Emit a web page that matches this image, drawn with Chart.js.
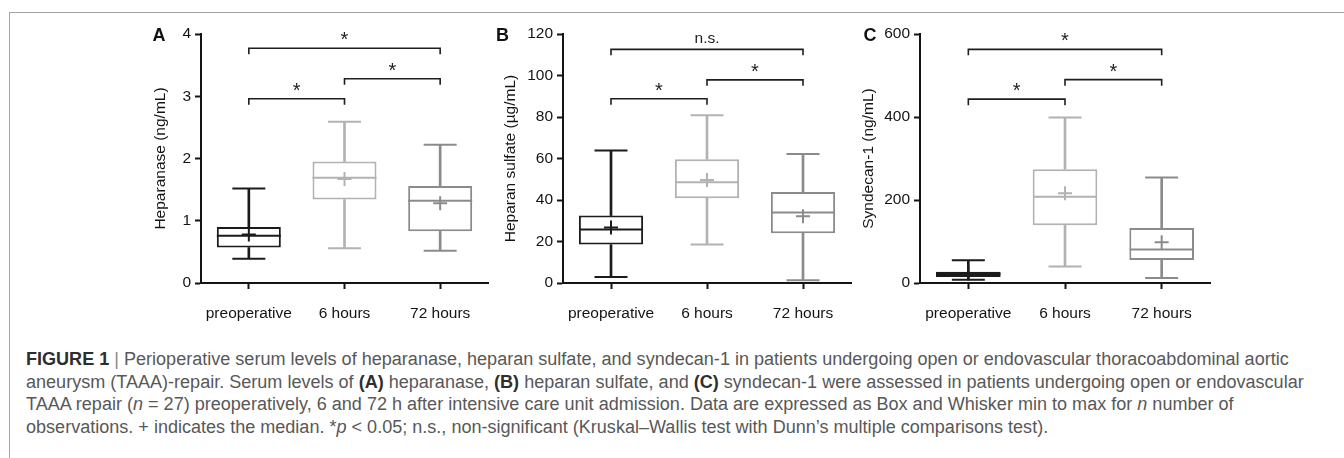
<!DOCTYPE html>
<html>
<head>
<meta charset="utf-8">
<script src="https://cdn.jsdelivr.net/npm/chart.js@4.4.1/dist/chart.umd.min.js"></script>
<style>
html,body{margin:0;padding:0;background:#fff;width:1344px;height:458px;overflow:hidden;font-family:"Liberation Sans",Arial,sans-serif;}
#frame{position:absolute;left:9px;top:12px;width:1400px;height:500px;border-top:1px solid #a6a6a6;border-left:1px solid #a6a6a6;}
canvas{position:absolute;top:0;}
.lbl{position:absolute;top:26px;font:bold 18px "Liberation Sans",Arial,sans-serif;color:#111;line-height:18px;}
#caption{position:absolute;left:26px;top:348px;color:#585858;white-space:nowrap;font-size:17.5px;}
#caption div{height:22.5px;line-height:22.5px;}
#caption b{color:#2e2e2e;font-weight:bold;}
#caption .bar{color:#888;}
</style>
</head>
<body>
<div id="frame"></div>
<canvas id="cA" width="345" height="340" style="left:147px"></canvas>
<canvas id="cB" width="358" height="340" style="left:497px"></canvas>
<canvas id="cC" width="359" height="340" style="left:855px"></canvas>
<div class="lbl" style="left:152.5px">A</div>
<div class="lbl" style="left:496px">B</div>
<div class="lbl" style="left:863.5px">C</div>
<div id="caption">
<div><span id="l1"><b>FIGURE 1</b> <span class="bar">|</span> Perioperative serum levels of heparanase, heparan sulfate, and syndecan-1 in patients undergoing open or endovascular thoracoabdominal aortic</span></div>
<div><span>aneurysm (TAAA)-repair. Serum levels of <b>(A)</b> heparanase, <b>(B)</b> heparan sulfate, and <b>(C)</b> syndecan-1 were assessed in patients undergoing open or endovascular</span></div>
<div><span>TAAA repair (<i>n</i> = 27) preoperatively, 6 and 72 h after intensive care unit admission. Data are expressed as Box and Whisker min to max for <i>n</i> number of</span></div>
<div><span>observations. + indicates the median. *<i>p</i> &lt; 0.05; n.s., non-significant (Kruskal–Wallis test with Dunn’s multiple comparisons test).</span></div>
</div>
<script>
// ---- data ----
const categories = ['preoperative', '6 hours', '72 hours'];

// A: Heparanase (ng/mL)
const heparanaseMin  = [0.39, 0.56, 0.52];
const heparanaseQ1   = [0.57, 1.34, 0.83];
const heparanaseMid  = [0.76, 1.69, 1.32];
const heparanaseQ3   = [0.90, 1.95, 1.56];
const heparanaseMax  = [1.52, 2.59, 2.22];
const heparanasePlus = [0.78, 1.67, 1.28];
const heparanaseTicks = [0, 1, 2, 3, 4];
const heparanaseBrackets = [[0, 2, 3.77, '*'], [1, 2, 3.28, '*'], [0, 1, 2.96, '*']];

// B: Heparan sulfate (µg/mL)
const sulfateMin  = [2.9, 18.5, 1.3];
const sulfateQ1   = [18.5, 40.8, 24.0];
const sulfateMid  = [25.8, 48.6, 34.0];
const sulfateQ3   = [32.5, 59.6, 43.8];
const sulfateMax  = [63.8, 80.9, 62.2];
const sulfatePlus = [26.7, 49.6, 32.2];
const sulfateTicks = [0, 20, 40, 60, 80, 100, 120];
const sulfateBrackets = [[0, 2, 112.6, 'n.s.'], [1, 2, 97.9, '*'], [0, 1, 88.8, '*']];

// C: Syndecan-1 (ng/mL)
const syndecanMin  = [8, 40, 12];
const syndecanQ1   = [14.5, 139, 55.4];
const syndecanMid  = [21.7, 208, 81];
const syndecanQ3   = [27.3, 274, 132.5];
const syndecanMax  = [54.6, 399, 254];
const syndecanPlus = [23, 216, 98];
const syndecanTicks = [0, 200, 400, 600];
const syndecanBrackets = [[0, 2, 563, '*'], [1, 2, 490, '*'], [0, 1, 443, '*']];

// ---- styling ----
const groupColors = ['#1b1b1b', '#b2b2b2', '#8b8b8b'];
const FONT = {family: '"Liberation Sans", Arial, sans-serif', size: 15.5};
const INK = '#141414';

const sigPlugin = {
  id: 'sig',
  afterDatasetsDraw(chart, args, opts) {
    const {ctx} = chart;
    const x = chart.scales.x, y = chart.scales.y;
    ctx.save();
    ctx.strokeStyle = '#1e1e1e';
    ctx.fillStyle = '#1e1e1e';
    ctx.lineWidth = 1.6;
    ctx.textAlign = 'center';
    ctx.textBaseline = 'alphabetic';
    for (const [a, b, lvl, txt] of opts.items) {
      const x1 = x.getPixelForValue(a), x2 = x.getPixelForValue(b);
      const yy = y.getPixelForValue(lvl);
      ctx.beginPath();
      ctx.moveTo(x1, yy + 6); ctx.lineTo(x1, yy); ctx.lineTo(x2, yy); ctx.lineTo(x2, yy + 6);
      ctx.stroke();
      if (txt === '*') {
        ctx.font = '20px "Liberation Sans", Arial, sans-serif';
        ctx.fillText(txt, (x1 + x2) / 2, yy - 2);
      } else {
        ctx.font = '15.5px "Liberation Sans", Arial, sans-serif';
        ctx.fillText(txt, (x1 + x2) / 2, yy - 6);
      }
    }
    ctx.restore();
  }
};

function boxChart(id, mins, q1, mid, q3, maxs, plus, ticks, title, brackets, yWidth) {
  const yMax = ticks[ticks.length - 1];
  const step = ticks[1] - ticks[0];
  const pts = (arr, style, r, order) => ({
    type: 'line', data: arr, showLine: false, pointStyle: style, pointRadius: r,
    pointHoverRadius: r, pointBorderColor: groupColors, pointBackgroundColor: groupColors,
    borderColor: groupColors, pointBorderWidth: 2, order, clip: false
  });
  return new Chart(document.getElementById(id), {
    data: {
      labels: categories,
      datasets: [
        {type: 'bar', data: categories.map((c, i) => [mins[i], q1[i]]), backgroundColor: groupColors,
         barThickness: 2, grouped: false, borderWidth: 0, order: 6},
        {type: 'bar', data: categories.map((c, i) => [q3[i], maxs[i]]), backgroundColor: groupColors,
         barThickness: 2, grouped: false, borderWidth: 0, order: 6},
        {type: 'bar', data: categories.map((c, i) => [q1[i], q3[i]]), backgroundColor: '#ffffff',
         borderColor: groupColors, borderWidth: 2, borderSkipped: false, grouped: false,
         barPercentage: 0.669, categoryPercentage: 1, order: 5},
        pts(mins, 'line', 16.5, 3),
        pts(maxs, 'line', 16.5, 3),
        pts(mid, 'line', 32, 2),
        pts(plus, 'cross', 7, 1)
      ]
    },
    options: {
      responsive: false,
      animation: false,
      events: [],
      layout: {autoPadding: false, padding: {top: 34, right: 4, left: 0, bottom: 0}},
      plugins: {legend: {display: false}, tooltip: {enabled: false}, sig: {items: brackets}},
      scales: {
        x: {
          type: 'category', offset: true,
          ticks: {font: FONT, color: INK, padding: 15, maxRotation: 0, autoSkip: false},
          border: {display: true, color: INK, width: 2},
          grid: {offset: false, drawOnChartArea: false, drawTicks: true, tickLength: 6, tickWidth: 2, tickColor: INK},
          afterFit(s) { s.height = 57; s.paddingLeft = 0; s.paddingRight = 0; }
        },
        y: {
          min: 0, max: yMax,
          afterBuildTicks(s) { s.ticks = ticks.map(v => ({value: v})); },
          ticks: {font: FONT, color: INK, padding: 4, stepSize: step},
          border: {display: true, color: INK, width: 2},
          grid: {drawOnChartArea: false, drawTicks: true, tickLength: 6, tickWidth: 2, tickColor: INK},
          title: {display: true, text: title, font: FONT, color: INK, padding: {top: 4, bottom: 4}},
          afterFit(s) { s.width = yWidth; s.paddingTop = 0; s.paddingBottom = 0; }
        }
      }
    },
    plugins: [sigPlugin]
  });
}

function fitCaption() {
  const cap = document.getElementById('caption');
  const l1 = document.getElementById('l1');
  const w = l1.getBoundingClientRect().width;
  const fs = 17.5 * 1264 / w;
  cap.style.fontSize = fs.toFixed(2) + 'px';
}

function draw() {
  fitCaption();
  boxChart('cA', heparanaseMin, heparanaseQ1, heparanaseMid, heparanaseQ3, heparanaseMax, heparanasePlus,
           heparanaseTicks, 'Heparanase (ng/mL)', heparanaseBrackets, 54);
  boxChart('cB', sulfateMin, sulfateQ1, sulfateMid, sulfateQ3, sulfateMax, sulfatePlus,
           sulfateTicks, 'Heparan sulfate (µg/mL)', sulfateBrackets, 66);
  boxChart('cC', syndecanMin, syndecanQ1, syndecanMid, syndecanQ3, syndecanMax, syndecanPlus,
           syndecanTicks, 'Syndecan-1 (ng/mL)', syndecanBrackets, 65);
}
if (document.fonts && document.fonts.ready) { document.fonts.ready.then(draw); } else { draw(); }
</script>
</body>
</html>
